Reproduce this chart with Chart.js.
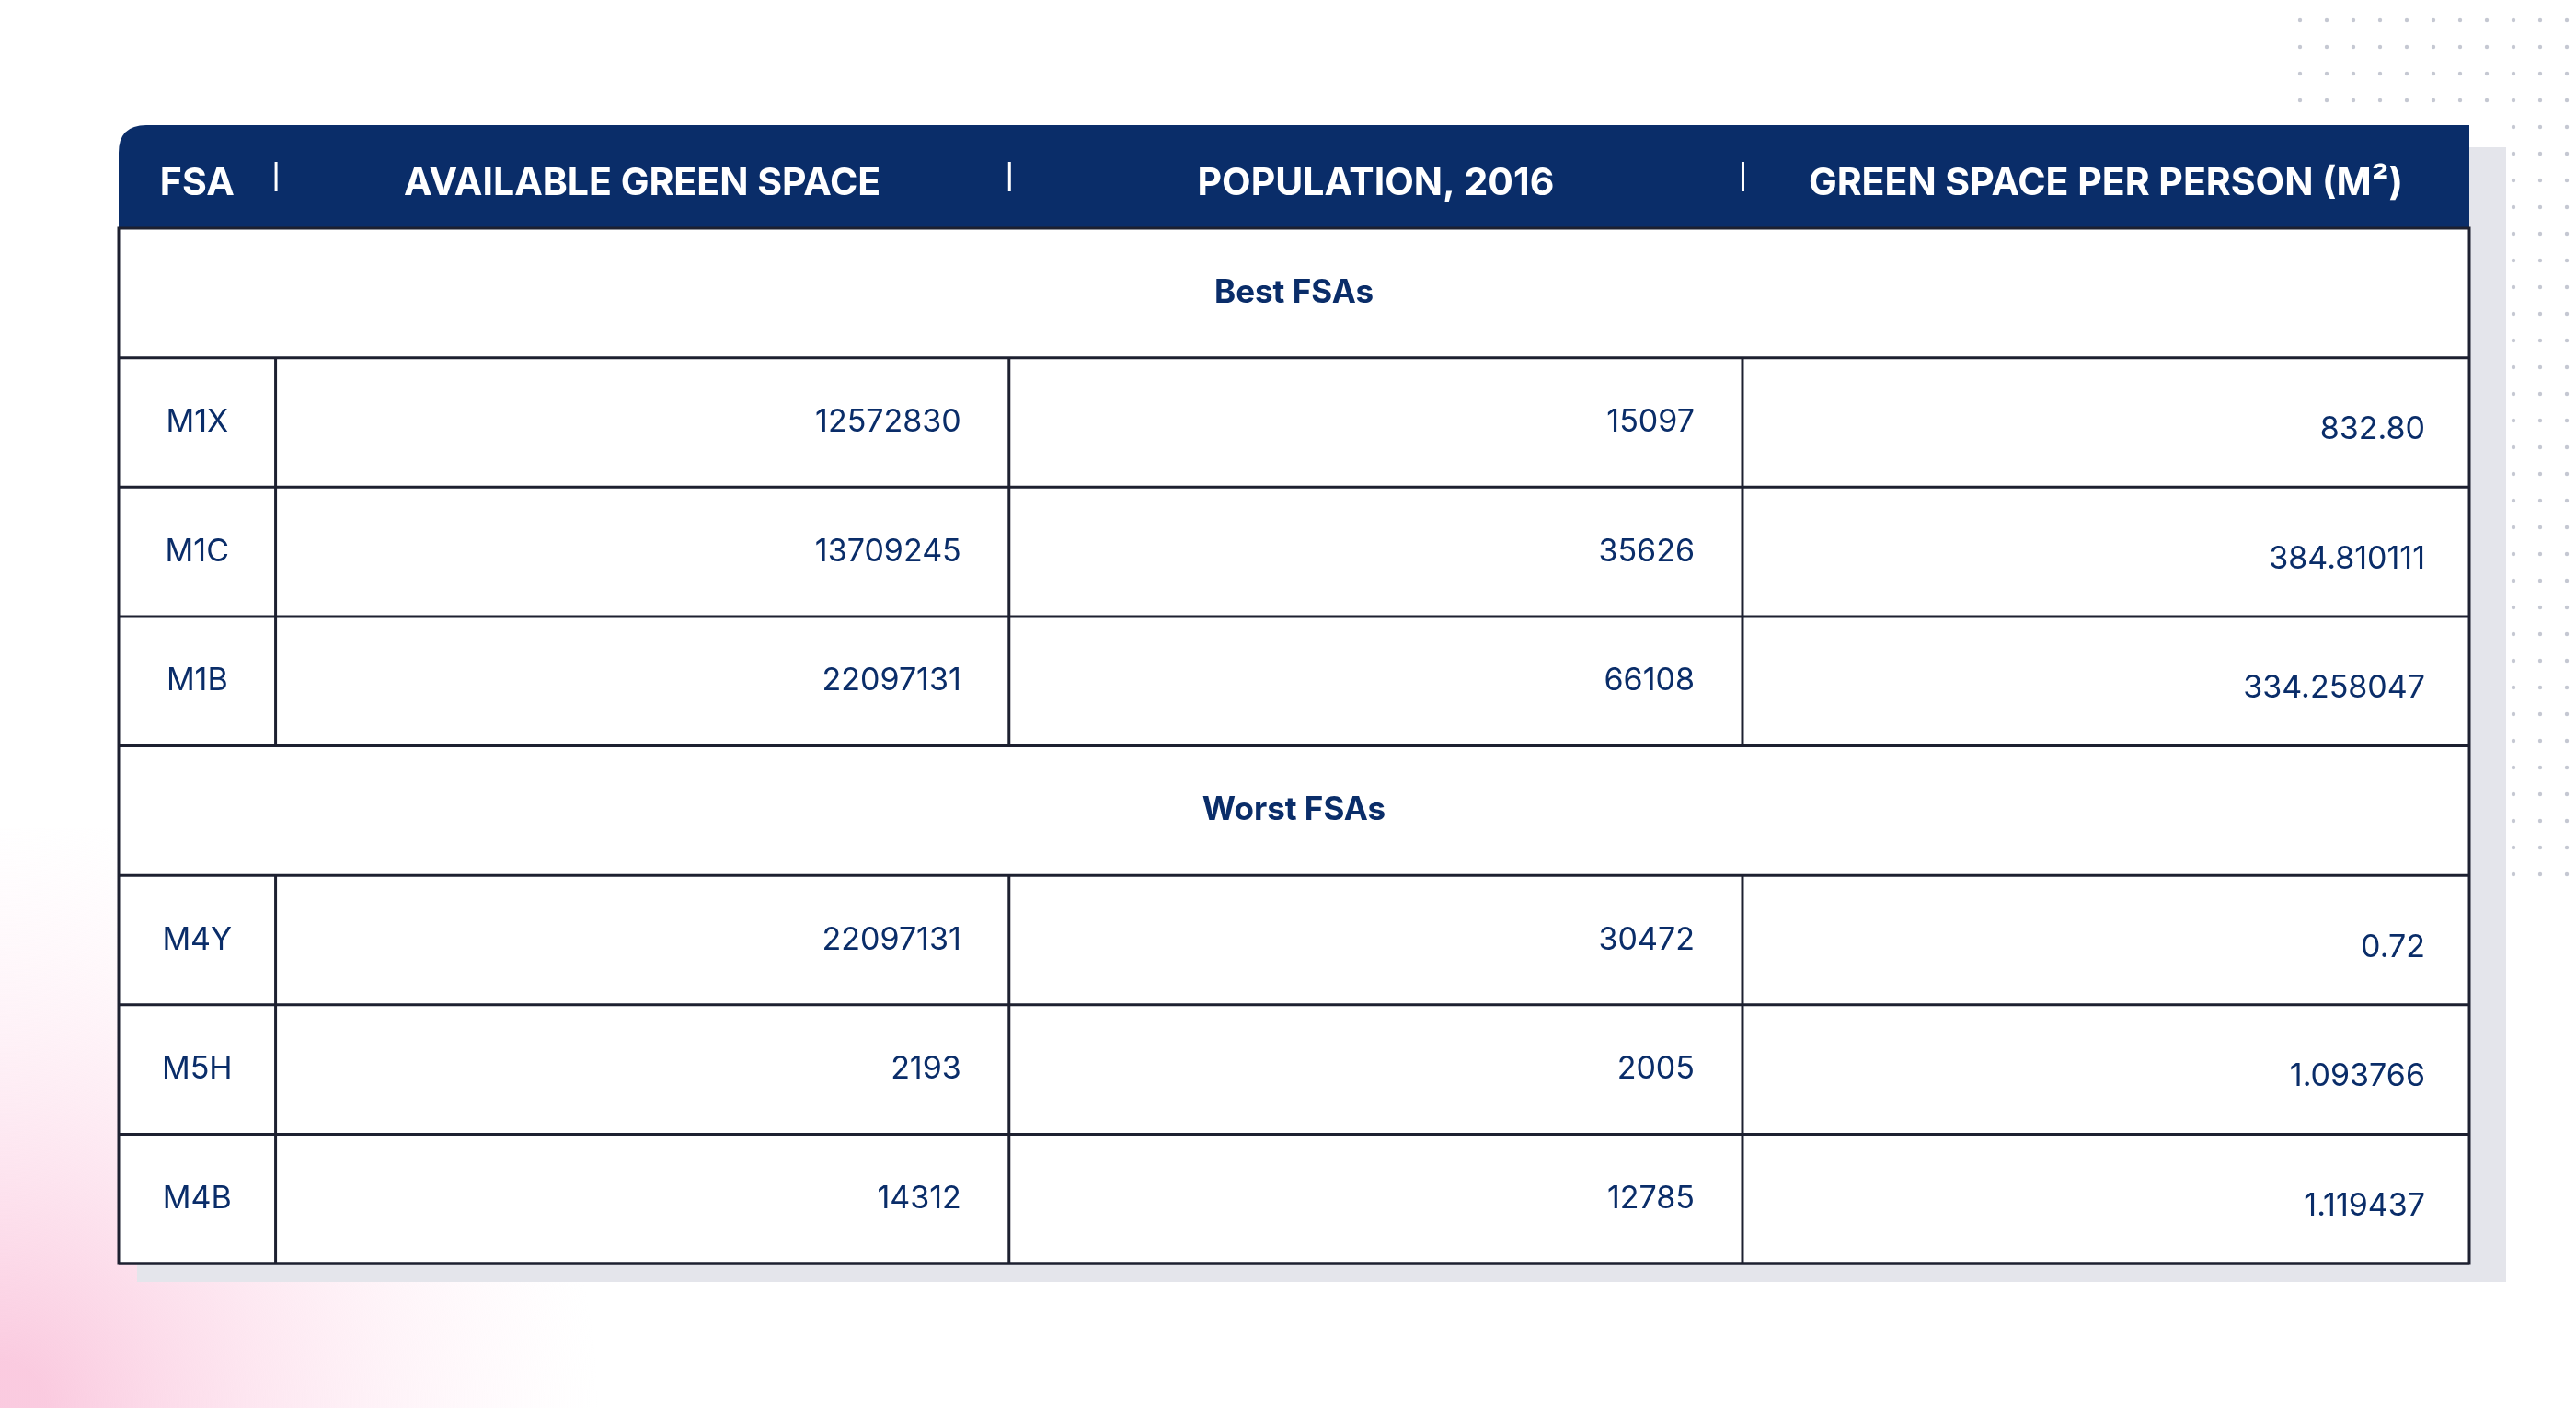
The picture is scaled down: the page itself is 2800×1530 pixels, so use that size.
<!DOCTYPE html>
<html>
<head>
<meta charset="utf-8">
<script src="https://cdn.jsdelivr.net/npm/chart.js@4/dist/chart.umd.min.js"></script>
<style>
  html, body { margin: 0; padding: 0; background: #fff; }
  #wrap { width: 2800px; height: 1530px; position: relative; }
</style>
</head>
<body>
<div id="wrap"><canvas id="tableChart" width="2800" height="1530"></canvas></div>
<script>
const headers = ['FSA', 'AVAILABLE GREEN SPACE', 'POPULATION, 2016', 'GREEN SPACE PER PERSON (M²)'];
const rowLabels = ['Best FSAs', 'M1X', 'M1C', 'M1B', 'Worst FSAs', 'M4Y', 'M5H', 'M4B'];
const greenSpace = [null, 12572830, 13709245, 22097131, null, 22097131, 2193, 14312];
const population = [null, 15097, 35626, 66108, null, 30472, 2005, 12785];
const perPerson = [null, '832.80', '384.810111', '334.258047', null, '0.72', '1.093766', '1.119437'];

const navy = '#0a2d69';
const colEdges = [0, 95, 539, 983, 1423]; // column boundaries in x-scale units

const tablePlugin = {
  id: 'tablePlugin',
  beforeDraw(chart) {
    const c = chart.ctx, a = chart.chartArea;
    c.save();
    // pink blob bottom-left
    const g = c.createRadialGradient(0, 1530, 50, 0, 1530, 650);
    g.addColorStop(0, 'rgba(250,200,222,0.95)');
    g.addColorStop(1, 'rgba(255,235,244,0)');
    c.fillStyle = g;
    c.fillRect(0, 900, 700, 630);
    // dots top right
    c.fillStyle = '#c5c8d2';
    for (let y = 22; y < 960; y += 29) {
      for (let x = 2500; x < 2800; x += 29) {
        if (y > 120 && x < 2720) continue;
        c.beginPath(); c.arc(x, y, 2.2, 0, Math.PI * 2); c.fill();
      }
    }
    // shadow
    c.fillStyle = '#e4e5eb';
    c.fillRect(a.left + 20, 160, a.right - a.left + 20, a.bottom - 160 + 20);
    c.fillStyle = '#fff';
    c.fillRect(a.left, a.top, a.right - a.left, a.bottom - a.top);
    c.restore();
  },
  afterDraw(chart) {
    const c = chart.ctx, a = chart.chartArea;
    const xs = chart.scales.x, ys = chart.scales.y;
    const xp = v => xs.getPixelForValue(v);
    const rowH = (a.bottom - a.top) / rowLabels.length;
    c.save();
    // header
    const hTop = a.top - 112;
    c.fillStyle = navy;
    c.beginPath();
    c.moveTo(a.left, a.top);
    c.lineTo(a.left, hTop + 30);
    c.quadraticCurveTo(a.left, hTop, a.left + 30, hTop);
    c.lineTo(a.right, hTop);
    c.lineTo(a.right, a.top);
    c.closePath();
    c.fill();
    c.fillStyle = '#fff';
    c.font = 'bold 41px Inter, "Noto Sans", sans-serif';
    c.textAlign = 'center';
    c.textBaseline = 'middle';
    headers.forEach((h, i) => {
      c.fillText(h, (xp(colEdges[i]) + xp(colEdges[i + 1])) / 2, hTop + 64);
      if (i > 0) {
        c.fillRect(xp(colEdges[i]) - 1, hTop + 40, 3, 32);
      }
    });
    // grid
    c.strokeStyle = '#1d2030';
    c.lineWidth = 3;
    c.strokeRect(a.left, a.top, a.right - a.left, a.bottom - a.top);
    rowLabels.forEach((lab, i) => {
      const yc = ys.getPixelForValue(i);
      const yt = yc - rowH / 2, yb = yc + rowH / 2;
      c.beginPath(); c.moveTo(a.left, yb); c.lineTo(a.right, yb); c.stroke();
      c.fillStyle = navy;
      if (greenSpace[i] === null) {
        c.font = 'bold 35px Inter, "Noto Sans", sans-serif';
        c.textAlign = 'center';
        c.fillText(lab, (a.left + a.right) / 2, yc);
        return;
      }
      for (let k = 1; k < colEdges.length - 1; k++) {
        c.beginPath(); c.moveTo(xp(colEdges[k]), yt); c.lineTo(xp(colEdges[k]), yb); c.stroke();
      }
      c.font = '34px Inter, "Noto Sans", sans-serif';
      c.textAlign = 'center';
      c.fillText(lab, (xp(colEdges[0]) + xp(colEdges[1])) / 2, yc);
      c.textAlign = 'right';
      c.fillText(String(greenSpace[i]), xp(colEdges[2]) - 52, yc);
      c.fillText(String(population[i]), xp(colEdges[3]) - 52, yc);
      c.fillText(perPerson[i], xp(colEdges[4]) - 48, yc + 8);
    });
    c.restore();
  }
};

new Chart(document.getElementById('tableChart').getContext('2d'), {
  type: 'bar',
  data: { labels: rowLabels, datasets: [{ data: [] }] },
  options: {
    responsive: false,
    animation: false,
    devicePixelRatio: 1,
    layout: { padding: { left: 129, right: 116, top: 248, bottom: 157 } },
    plugins: { legend: { display: false }, tooltip: { enabled: false } },
    scales: {
      x: { type: 'linear', min: 0, max: 1423, display: false, offset: false },
      y: { type: 'category', display: false, offset: true }
    }
  },
  plugins: [tablePlugin]
});
</script>
</body>
</html>
